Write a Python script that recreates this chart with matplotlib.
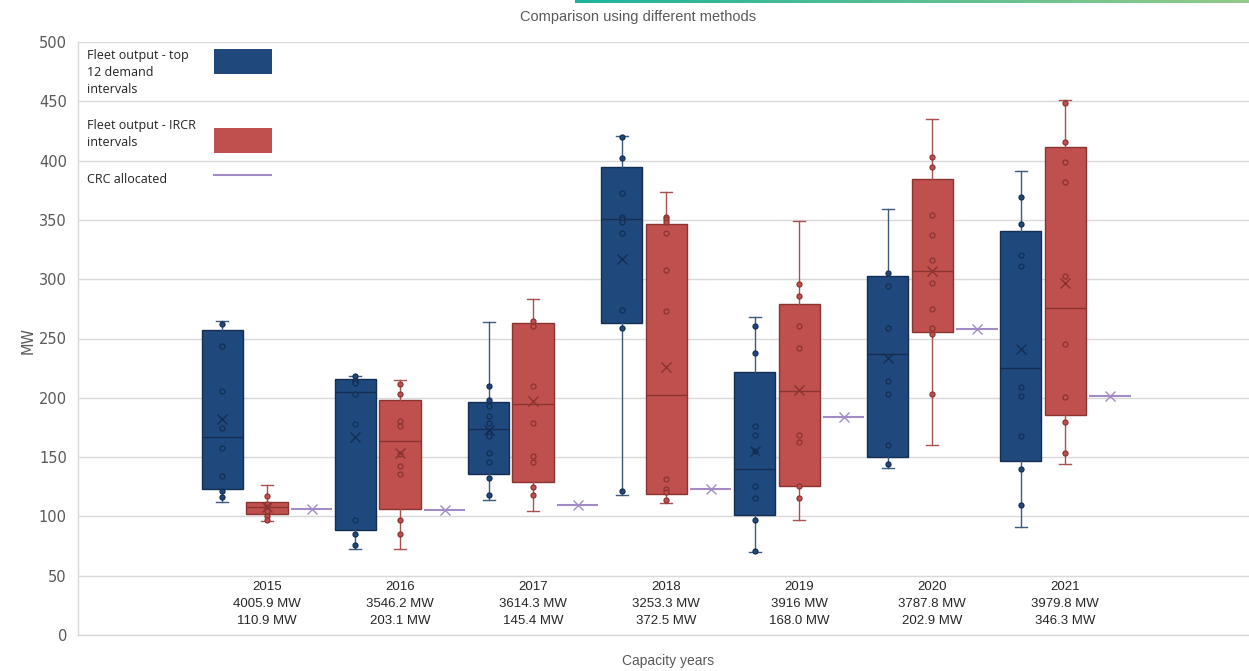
import numpy as np
import matplotlib
matplotlib.use("Agg")
import matplotlib.pyplot as plt
from matplotlib.colors import LinearSegmentedColormap
from matplotlib.patches import Rectangle

# ---- data ----
years = ["2015", "2016", "2017", "2018", "2019", "2020", "2021"]
fleet_totals = ["4005.9 MW", "3546.2 MW", "3614.3 MW", "3253.3 MW",
                "3916 MW", "3787.8 MW", "3979.8 MW"]
crc_totals = ["110.9 MW", "203.1 MW", "145.4 MW", "372.5 MW",
              "168.0 MW", "202.9 MW", "346.3 MW"]

# Fleet output - top 12 demand intervals
top12_whislo = [111.9, 72.8, 113.5, 118.3, 69.7, 140.8, 91.3]
top12_q1 = [123.0, 88.3, 135.8, 262.8, 101.5, 150.3, 146.7]
top12_med = [167.0, 204.6, 173.4, 350.5, 139.8, 236.6, 225.1]
top12_q3 = [257.0, 216.2, 196.7, 394.6, 221.8, 302.7, 340.4]
top12_whishi = [265.0, 218.1, 263.6, 421.0, 268.4, 358.9, 391.0]
top12_mean = [182.0, 166.7, 172.8, 316.8, 154.9, 233.3, 241.4]
top12_points = [
    [262.0, 243.7, 206.0, 174.8, 158.0, 134.0, 121.7, 116.6],
    [218.1, 214.4, 212.2, 203.2, 177.9, 97.0, 84.9, 76.2],
    [210.2, 197.9, 193.5, 184.7, 179.0, 170.0, 167.8, 153.7, 145.9, 132.4, 118.0],
    [419.6, 402.2, 373.0, 352.7, 350.5, 348.2, 338.7, 273.7, 258.9, 121.7],
    [260.5, 238.0, 176.0, 168.4, 155.1, 125.9, 115.8, 97.0, 70.8],
    [305.5, 294.5, 258.9, 213.9, 203.2, 159.9, 143.9],
    [369.6, 346.5, 320.7, 311.4, 208.9, 201.5, 167.8, 140.0, 109.6],
]

# Fleet output - IRCR intervals
ircr_whislo = [96.1, 72.8, 104.8, 111.6, 97.0, 159.9, 144.4]
ircr_q1 = [101.8, 106.6, 129.0, 119.1, 125.9, 255.2, 185.2]
ircr_med = [107.7, 163.8, 194.8, 202.6, 205.5, 306.6, 275.7]
ircr_q3 = [111.9, 197.9, 262.8, 346.2, 279.4, 384.2, 411.1]
ircr_whishi = [126.2, 215.0, 283.0, 373.5, 349.0, 435.4, 451.0]
ircr_mean = [107.7, 153.2, 197.6, 226.0, 206.3, 306.6, 297.1]
ircr_points = [
    [117.0, 110.7, 107.7, 104.6, 100.3, 97.0],
    [211.6, 203.0, 180.7, 176.2, 152.3, 142.5, 135.8, 96.7, 84.9],
    [265.0, 260.5, 210.2, 178.8, 150.9, 146.1, 124.5, 118.3],
    [352.7, 350.5, 348.2, 338.7, 307.5, 273.5, 131.3, 122.8, 120.6, 113.8],
    [296.2, 285.6, 260.3, 242.0, 168.4, 162.5, 125.6, 115.8],
    [403.3, 394.9, 354.1, 337.5, 316.2, 296.6, 274.7, 258.9, 253.5, 203.2],
    [448.8, 415.4, 398.8, 381.6, 303.0, 245.1, 200.4, 179.9, 153.2],
]

# CRC allocated
crc_alloc = [106.6, 105.0, 109.3, 123.4, 183.5, 258.0, 201.8]

BLUE, BLUE_DK, BLUE_WH = "#1f497d", "#132e52", "#3d5a80"
RED, RED_DK, RED_WH = "#c0504d", "#8a3432", "#a8524f"
PURPLE = "#a38cc6"
GREY_TXT = "#595959"
GRID = "#d9d9d9"
NARROW = ["Liberation Sans Narrow", "Liberation Sans", "DejaVu Sans"]

W, H = 1249, 671


def px(x, y):
    return x / W, 1 - y / H


def stats(lo, q1, med, q3, hi, mean):
    return [dict(whislo=a, q1=b, med=c, q3=d, whishi=e, mean=f, fliers=[])
            for a, b, c, d, e, f in zip(lo, q1, med, q3, hi, mean)]


fig = plt.figure(figsize=(W / 100, H / 100), dpi=100)
ax = fig.add_axes([78 / W, 36 / H, (W - 78) / W, 593 / H])

x = np.arange(len(years))
off, bw = 0.335, 0.31


def draw_series(st, pos, face, edge, wh, points, mean):
    ax.bxp(st, positions=pos, widths=bw, patch_artist=True, showfliers=False,
           manage_ticks=False, capwidths=0.09,
           boxprops=dict(facecolor=face, edgecolor=edge, linewidth=1.0),
           whiskerprops=dict(color=wh, linewidth=1.0),
           capprops=dict(color=wh, linewidth=1.0),
           medianprops=dict(color=edge, linewidth=1.0))
    for p, pts in zip(pos, points):
        ax.plot([p] * len(pts), pts, "o", ms=3.6, mfc=face, mec=edge,
                mew=0.9, zorder=4, ls="none")
    ax.plot(pos, mean, "x", ms=7, mew=1.0, color=edge, ls="none", zorder=5)


draw_series(stats(top12_whislo, top12_q1, top12_med, top12_q3, top12_whishi, top12_mean),
            x - off, BLUE, BLUE_DK, BLUE_WH, top12_points, top12_mean)
draw_series(stats(ircr_whislo, ircr_q1, ircr_med, ircr_q3, ircr_whishi, ircr_mean),
            x, RED, RED_DK, RED_WH, ircr_points, ircr_mean)

ax.hlines(crc_alloc, x + off - bw / 2, x + off + bw / 2, color=PURPLE, lw=1.5, zorder=3)
ax.plot(x + off, crc_alloc, "x", ms=6.5, mew=1.0, color=PURPLE, ls="none", zorder=4)

# category labels sit inside the 0-50 band
for xi, yr, ft, ct in zip(x, years, fleet_totals, crc_totals):
    for yv, s in ((40.5, yr), (26.2, ft), (11.9, ct)):
        ax.text(xi, yv, s, ha="center", va="center", fontsize=9.5,
                family=NARROW, color="#262626")

ax.set_xlim(-1.42, 7.38)
ax.set_ylim(0, 500)
ax.set_yticks(np.arange(0, 501, 50))
ax.set_xticks([])
ax.tick_params(axis="y", length=0, pad=8, labelsize=10.5, labelcolor=GREY_TXT)
ax.grid(axis="y", color=GRID, lw=1.0)
ax.set_axisbelow(True)
for s in ("top", "right"):
    ax.spines[s].set_visible(False)
for s in ("left", "bottom"):
    ax.spines[s].set_color(GRID)
    ax.spines[s].set_linewidth(1.0)

fig.text(*px(28, 340), "MW", rotation=90, ha="center", va="center",
         fontsize=10.5, color=GREY_TXT)
fig.text(*px(668, 661), "Capacity years", ha="center", va="center",
         fontsize=10, family=NARROW, color=GREY_TXT)
fig.text(*px(638, 17), "Comparison using different methods", ha="center",
         va="center", fontsize=10.5, family=NARROW, color=GREY_TXT)

# legend drawn the way the source lays it out: text left, key right
leg_font = dict(fontsize=9, family="Open Sans", color="#222222", va="top", ha="left",
                linespacing=1.4)
fig.text(*px(87, 49), "Fleet output - top\n12 demand\nintervals", **leg_font)
fig.text(*px(87, 119), "Fleet output - IRCR\nintervals", **leg_font)
fig.text(*px(87, 173), "CRC allocated", **leg_font)
fig.patches.append(Rectangle(px(214, 74), 58 / W, 25 / H, transform=fig.transFigure,
                             facecolor=BLUE, edgecolor="none"))
fig.patches.append(Rectangle(px(214, 153), 58 / W, 25 / H, transform=fig.transFigure,
                             facecolor=RED, edgecolor="none"))
fig.lines.append(plt.Line2D([214 / W, 271 / W], [1 - 175 / H] * 2,
                            transform=fig.transFigure, color=PURPLE, lw=1.5))

# teal accent strip along the top edge
strip = fig.add_axes([575 / W, 1 - 3 / H, (W - 575) / W, 3 / H])
cmap = LinearSegmentedColormap.from_list("strip", ["#1fb39c", "#94ca8a"])
strip.imshow(np.linspace(0, 1, 256)[None, :], aspect="auto", cmap=cmap)
strip.axis("off")

fig.savefig("out.png", dpi=100)
